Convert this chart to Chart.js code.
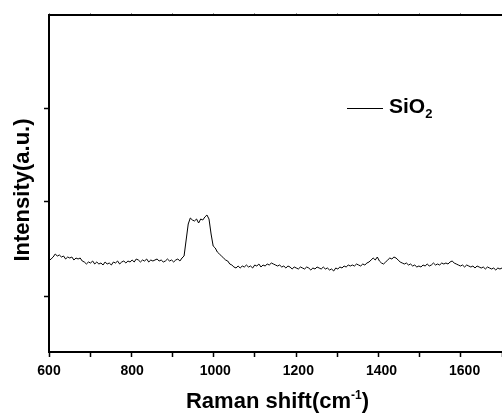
<!DOCTYPE html>
<html>
<head>
<meta charset="utf-8">
<script src="https://cdn.jsdelivr.net/npm/chart.js@4/dist/chart.umd.min.js"></script>
<style>
  html, body { margin: 0; padding: 0; background: #fff; }
  #wrap { width: 502px; height: 419px; }
</style>
</head>
<body>
<div id="wrap"><canvas id="ramanChart" width="502" height="419"></canvas></div>
<script>
// Raman shift (cm-1) and intensity (a.u., arbitrary scale)
const ramanShift = [
  602, 605, 610, 615, 620, 625, 630, 635, 640, 645, 650, 655, 660, 665, 670, 675, 680, 685, 690, 695, 700,
  705, 710, 715, 720, 725, 730, 735, 740, 745, 750, 755, 760, 765, 770, 775, 780, 785, 790, 795, 800,
  805, 810, 815, 820, 825, 830, 835, 840, 845, 850, 855, 860, 865, 870, 875, 880, 885, 890, 895, 900,
  905, 910, 915, 920, 925, 930, 935, 940, 945, 950, 955, 960, 965, 970, 975, 980, 985, 990, 995, 1000,
  1005, 1010, 1015, 1020, 1025, 1030, 1035, 1040, 1045, 1050, 1055, 1060, 1065, 1070, 1075, 1080, 1085, 1090, 1095, 1100,
  1105, 1110, 1115, 1120, 1125, 1130, 1135, 1140, 1145, 1150, 1155, 1160, 1165, 1170, 1175, 1180, 1185, 1190, 1195, 1200,
  1205, 1210, 1215, 1220, 1225, 1230, 1235, 1240, 1245, 1250, 1255, 1260, 1265, 1270, 1275, 1280, 1285, 1290, 1295, 1300,
  1305, 1310, 1315, 1320, 1325, 1330, 1335, 1340, 1345, 1350, 1355, 1360, 1365, 1370, 1375, 1380, 1385, 1390, 1395, 1400,
  1405, 1410, 1415, 1420, 1425, 1430, 1435, 1440, 1445, 1450, 1455, 1460, 1465, 1470, 1475, 1480, 1485, 1490, 1495, 1500,
  1505, 1510, 1515, 1520, 1525, 1530, 1535, 1540, 1545, 1550, 1555, 1560, 1565, 1570, 1575, 1580, 1585, 1590, 1595, 1600,
  1605, 1610, 1615, 1620, 1625, 1630, 1635, 1640, 1645, 1650, 1655, 1660, 1665, 1670, 1675, 1680, 1685, 1690
];
const sio2Intensity = [
  92, 93, 95, 98, 96, 97, 95, 96, 93, 95, 94, 95, 92, 94, 93, 94, 91, 90, 88, 90, 89,
  91, 88, 90, 88, 89, 87, 90, 88, 89, 87, 90, 89, 91, 88, 90, 91, 89, 91, 90, 92,
  90, 93, 92, 90, 92, 91, 93, 90, 92, 91, 92, 93, 91, 92, 90, 91, 93, 91, 92, 90,
  92, 93, 91, 94, 96, 112, 128, 134, 132, 131, 133, 129, 133, 132, 135, 137, 133, 118, 106, 104,
  100, 98, 96, 94, 92, 91, 88, 87, 85, 84, 86, 84, 86, 85, 87, 85, 86, 84, 87, 86,
  88, 85, 87, 86, 88, 87, 89, 88, 87, 86, 87, 85, 86, 84, 86, 85, 83, 85, 84, 83,
  85, 84, 83, 85, 84, 82, 84, 83, 85, 84, 83, 85, 83, 84, 82, 83, 81, 84, 83, 85,
  84, 86, 85, 87, 86, 87, 86, 88, 87, 86, 88, 87, 89, 90, 92, 94, 92, 95, 91, 89,
  88, 90, 92, 94, 93, 95, 94, 92, 90, 89, 88, 89, 87, 88, 86, 87, 85, 86, 85, 87,
  86, 88, 86, 87, 89, 87, 88, 87, 89, 88, 89, 88, 90, 91, 89, 88, 87, 86, 87, 85,
  87, 86, 85, 86, 84, 86, 85, 84, 85, 83, 85, 84, 83, 84, 82, 84, 83, 84
];
const xTicks = [600, 800, 1000, 1200, 1400, 1600];
const yTicks = [56, 150, 244];

const points = ramanShift.map((x, i) => ({ x: x, y: sio2Intensity[i] }));

// draws tick labels, axis titles and the legend (sub/superscripts need manual text)
const labelsPlugin = {
  id: 'labels',
  afterDraw(chart) {
    const ctx = chart.ctx;
    const area = chart.chartArea;
    ctx.save();
    ctx.fillStyle = '#000';
    ctx.textBaseline = 'alphabetic';

    // x tick labels
    const xs = chart.scales.x;
    ctx.font = 'bold 14px "Liberation Sans", Arial, sans-serif';
    ctx.textAlign = 'center';
    xTicks.forEach(v => {
      ctx.fillText(String(v), xs.getPixelForValue(v), 375);
    });
    ctx.textAlign = 'left';

    // x title with superscript
    const big = 'bold 22px "Liberation Sans", Arial, sans-serif';
    const small = 'bold 12px "Liberation Sans", Arial, sans-serif';
    ctx.font = big;
    const w1 = ctx.measureText('Raman shift(cm').width;
    const w3 = ctx.measureText(')').width;
    ctx.font = small;
    const w2 = ctx.measureText('-1').width;
    let x = (area.left + area.right) / 2 - (w1 + w2 + w3) / 2 + 2;
    const y = 408;
    ctx.font = big;
    ctx.fillText('Raman shift(cm', x, y);
    ctx.font = small;
    ctx.fillText('-1', x + w1, y - 9);
    ctx.font = big;
    ctx.fillText(')', x + w1 + w2, y);

    // y title
    ctx.save();
    ctx.translate(29, 190);
    ctx.rotate(-Math.PI / 2);
    ctx.font = big;
    ctx.textAlign = 'center';
    ctx.fillText('Intensity(a.u.)', 0, 0);
    ctx.restore();

    // legend
    ctx.strokeStyle = '#000';
    ctx.lineWidth = 1;
    ctx.beginPath();
    ctx.moveTo(347, 108.5);
    ctx.lineTo(383, 108.5);
    ctx.stroke();
    ctx.font = 'bold 21px "Liberation Sans", Arial, sans-serif';
    ctx.fillText('SiO', 389, 113);
    const ws = ctx.measureText('SiO').width;
    ctx.font = 'bold 13px "Liberation Sans", Arial, sans-serif';
    ctx.fillText('2', 389 + ws, 118);
    ctx.restore();
  }
};

const ctx = document.getElementById('ramanChart').getContext('2d');
new Chart(ctx, {
  type: 'line',
  data: {
    datasets: [{
      label: 'SiO2',
      data: points,
      borderColor: '#000',
      borderWidth: 1,
      pointRadius: 0,
      tension: 0,
      fill: false
    }]
  },
  options: {
    responsive: false,
    animation: false,
    layout: { padding: 0 },
    plugins: {
      legend: { display: false },
      tooltip: { enabled: false }
    },
    scales: {
      x: {
        type: 'linear',
        position: 'bottom',
        min: 600,
        max: 1690,
        afterFit: (scale) => { scale.height = 67; },
        ticks: { display: false, stepSize: 100 },
        grid: {
          drawOnChartArea: false,
          drawTicks: true,
          tickLength: 5,
          tickWidth: 1.5,
          color: '#000'
        },
        border: { display: true, color: '#000', width: 2 }
      },
      x2: {
        type: 'linear',
        position: 'top',
        min: 600,
        max: 1690,
        afterFit: (scale) => { scale.height = 15; },
        ticks: { display: false, stepSize: 100 },
        grid: {
          drawOnChartArea: false,
          drawTicks: true,
          tickLength: 2,
          tickWidth: 1,
          color: '#999'
        },
        border: { display: true, color: '#000', width: 2 }
      },
      y: {
        type: 'linear',
        position: 'left',
        min: 0,
        max: 337,
        afterFit: (scale) => { scale.width = 49; },
        afterBuildTicks: (scale) => { scale.ticks = yTicks.map(v => ({ value: v })); },
        ticks: { display: false },
        grid: {
          drawOnChartArea: false,
          drawTicks: true,
          tickLength: 5,
          tickWidth: 1.5,
          color: '#000'
        },
        border: { display: true, color: '#000', width: 2 }
      }
    }
  },
  plugins: [labelsPlugin]
});
</script>
</body>
</html>
